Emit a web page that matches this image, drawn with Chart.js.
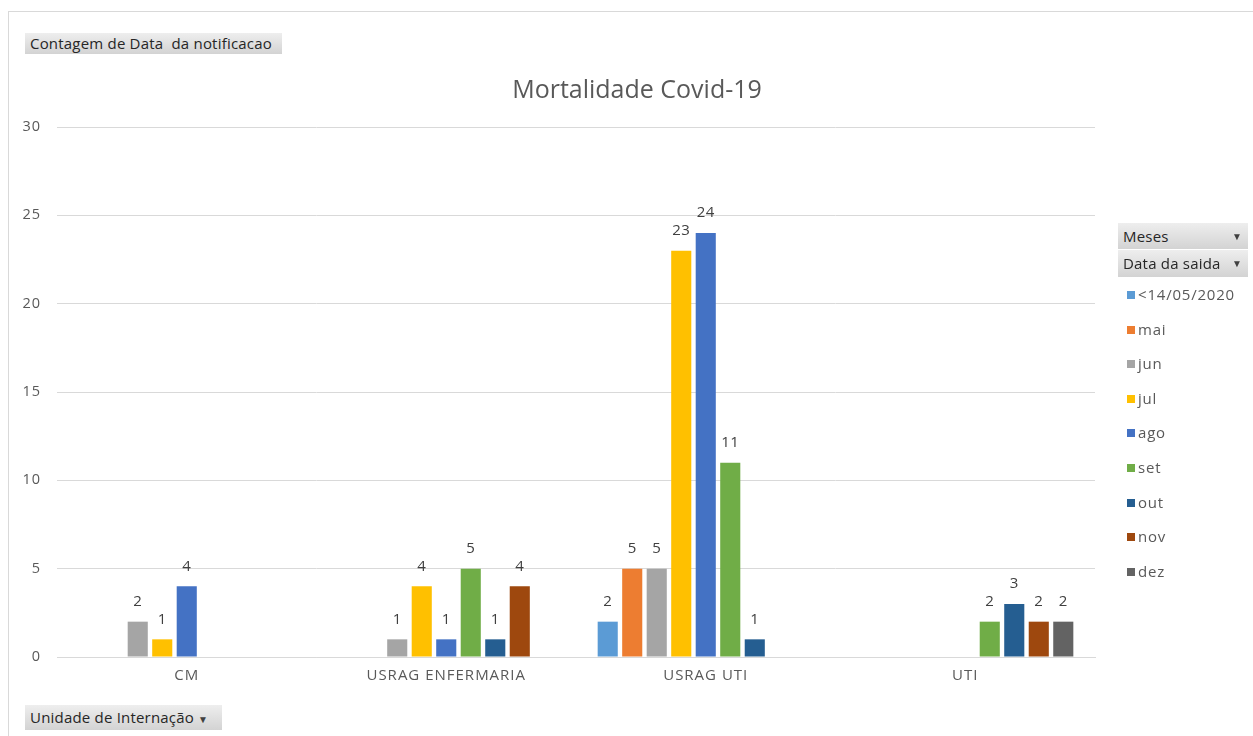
<!DOCTYPE html>
<html>
<head>
<meta charset="utf-8">
<script src="https://cdn.jsdelivr.net/npm/chart.js@4/dist/chart.umd.min.js"></script>
<style>
html,body{margin:0;padding:0;background:#fff;overflow:hidden}
#wrap{position:relative;width:1253px;height:736px;font-family:"Open Sans",sans-serif}
#c{position:absolute;left:0;top:0}
.fline{position:absolute;background:#d9d9d9}
.btn{position:absolute;background:linear-gradient(#eeeeee,#d3d3d3);color:#262626;font-size:15px;letter-spacing:0.2px;white-space:pre;box-sizing:border-box;padding-left:5px;line-height:20px}
.arrow{position:absolute;right:6px;top:0;font-size:10px;color:#404040}
#title{position:absolute;left:387px;width:500px;top:71px;text-align:center;font-size:25px;line-height:34px;color:#595959}
.lg{position:absolute;left:1127px;font-size:15px;letter-spacing:0.8px;color:#595959;line-height:18px;white-space:pre}
.lg i{display:inline-block;width:8px;height:8px;margin-right:3px;vertical-align:1px}
</style>
</head>
<body>
<div id="wrap">
  <canvas id="c" width="1253" height="736"></canvas>
  <div class="fline" style="left:8px;top:11px;width:1245px;height:1px"></div>
  <div class="fline" style="left:8px;top:11px;width:1px;height:725px"></div>
  <div class="btn" style="left:25px;top:33px;width:257px;height:21px;line-height:21px">Contagem de Data  da notificacao</div>
  <div id="title">Mortalidade Covid-19</div>
  <div class="btn" style="left:1118px;top:223px;width:130px;height:26px;line-height:26px">Meses<span class="arrow" style="line-height:26px">&#9660;</span></div>
  <div class="btn" style="left:1118px;top:250px;width:130px;height:27px;line-height:27px">Data da saida<span class="arrow" style="line-height:27px">&#9660;</span></div>
  <div class="btn" style="left:25px;top:705px;width:197px;height:25px;line-height:25px">Unidade de Internação <span style="font-size:10px;color:#404040">&#9660;</span></div>
  <div id="legend"></div>
</div>
<script>
// ---- data ----
const categories = ["CM", "USRAG ENFERMARIA", "USRAG UTI", "UTI"];
const seriesNames = ["<14/05/2020", "mai", "jun", "jul", "ago", "set", "out", "nov", "dez"];
const s_ate1405 = [null, null, 2, null];
const s_mai = [null, null, 5, null];
const s_jun = [2, 1, 5, null];
const s_jul = [1, 4, 23, null];
const s_ago = [4, 1, 24, null];
const s_set = [null, 5, 11, 2];
const s_out = [null, 1, 1, 3];
const s_nov = [null, 4, null, 2];
const s_dez = [null, null, null, 2];
const yTicks = [0, 5, 10, 15, 20, 25, 30];
const seriesColors = ["#5B9BD5", "#ED7D31", "#A5A5A5", "#FFC000", "#4472C4", "#70AD47", "#255E91", "#9E480E", "#636363"];

const seriesValues = [s_ate1405, s_mai, s_jun, s_jul, s_ago, s_set, s_out, s_nov, s_dez];

// legend (HTML)
const lg = document.getElementById('legend');
seriesNames.forEach((n, i) => {
  const d = document.createElement('div');
  d.className = 'lg';
  d.style.top = (294 + i * 34.6 - 9) + 'px';
  const m = document.createElement('i');
  m.style.background = seriesColors[i];
  d.appendChild(m);
  d.appendChild(document.createTextNode(n));
  lg.appendChild(d);
});

const spacing = {
  id: 'spacing',
  beforeDraw(chart) { chart.ctx.letterSpacing = '1px'; }
};

const valueLabels = {
  id: 'valueLabels',
  afterDatasetsDraw(chart) {
    const ctx = chart.ctx;
    ctx.save();
    ctx.letterSpacing = '0.5px';
    ctx.font = '15px "Open Sans", sans-serif';
    ctx.fillStyle = '#404040';
    ctx.textAlign = 'center';
    ctx.textBaseline = 'middle';
    chart.data.datasets.forEach((ds, di) => {
      const meta = chart.getDatasetMeta(di);
      meta.data.forEach((el, i) => {
        const v = ds.data[i];
        if (v === null || v === undefined) return;
        ctx.fillText(String(v), el.x, el.y - 20);
      });
    });
    ctx.restore();
  }
};

new Chart(document.getElementById('c'), {
  type: 'bar',
  data: {
    labels: categories,
    datasets: seriesNames.map((n, i) => ({
      label: n,
      data: seriesValues[i],
      backgroundColor: seriesColors[i],
      borderWidth: 0,
      categoryPercentage: 0.85,
      barPercentage: 0.82
    }))
  },
  options: {
    responsive: false,
    animation: false,
    devicePixelRatio: 1,
    layout: { padding: { left: 0, right: 158, top: 127, bottom: 0 } },
    plugins: {
      legend: { display: false },
      tooltip: { enabled: false },
      title: { display: false }
    },
    scales: {
      x: {
        grid: { display: false, drawTicks: false },
        border: { display: true, color: '#d9d9d9', width: 1 },
        ticks: { color: '#595959', font: { family: '"Open Sans", sans-serif', size: 15 }, padding: 10, maxRotation: 0 },
        afterFit(s) { s.height = 79; }
      },
      y: {
        min: 0, max: 30,
        afterBuildTicks(s) { s.ticks = yTicks.map(v => ({ value: v })); },
        grid: { color: '#d9d9d9', lineWidth: 1, drawTicks: false },
        border: { display: false },
        ticks: { color: '#595959', font: { family: '"Open Sans", sans-serif', size: 14.5 }, padding: 16 },
        afterFit(s) { s.width = 57; }
      }
    }
  },
  plugins: [spacing, valueLabels]
});
</script>
</body>
</html>
